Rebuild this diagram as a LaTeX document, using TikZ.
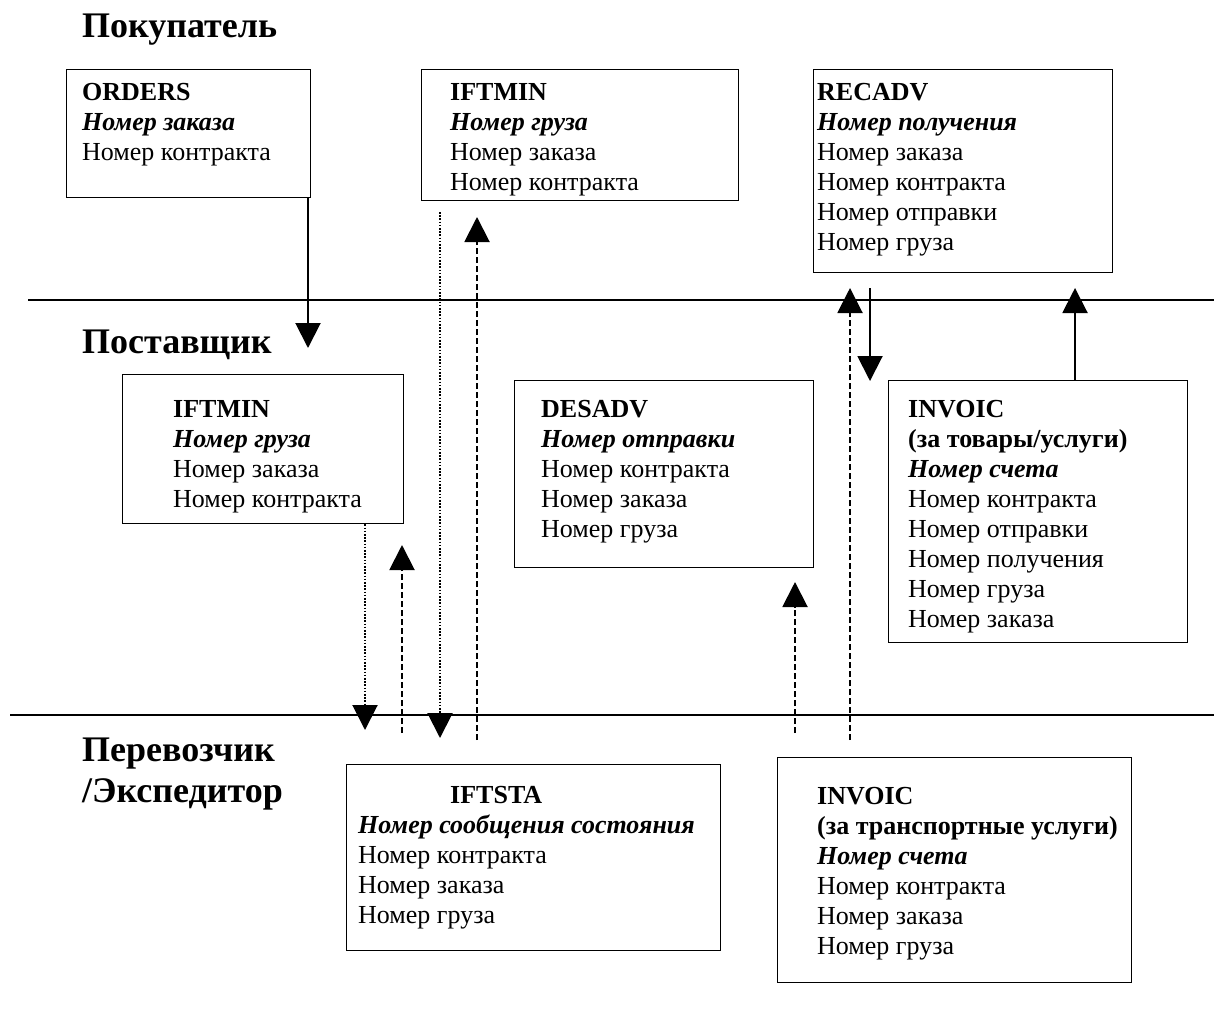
\documentclass[tikz,border=0pt]{standalone}
\usepackage{fontspec}
\setmainfont{Liberation Serif}
\usetikzlibrary{arrows.meta}
\newcommand{\mlines}[1]{\begin{tabular}[t]{@{}l@{}}#1\end{tabular}}
\newcommand{\bfit}[1]{\textbf{\textit{#1}}}
\begin{document}
\begin{tikzpicture}[x=1pt,y=-1pt,
  box/.style={draw, line width=1.3pt, inner sep=0pt, anchor=north west},
  txt/.style={inner sep=0pt, anchor=base west, font=\fontsize{26}{30}\selectfont},
  ttl/.style={inner sep=0pt, anchor=base west, font=\fontsize{36}{41.4}\selectfont\bfseries},
  sepline/.style={line width=1.3pt},
  arr/.style={line width=2pt, -{Triangle[length=25pt,width=25pt]}},
  dotline/.style={dash pattern=on 1.6pt off 1.6pt},
  dashline/.style={dash pattern=on 6pt off 3pt}]
\useasboundingbox (0,0) rectangle (1214,1020);

% titles
\node[ttl] (tbuy) at (82,37) {Покупатель};
\node[ttl] (tsup) at (82,353) {Поставщик};
\node[ttl] (tcar) at (82,761) {\mlines{Перевозчик\\/Экспедитор}};

% separators
\coordinate (l1a) at (28,300);
\coordinate (l1b) at (1214,300);
\coordinate (l2a) at (10,715);
\coordinate (l2b) at (1214,715);
\draw[sepline] (l1a) -- (l1b);
\draw[sepline] (l2a) -- (l2b);

% boxes
\node[box, minimum width=244pt, minimum height=128pt] (orders) at (66,69) {};
\node[box, minimum width=317pt, minimum height=131pt] (iftminB) at (421,69) {};
\node[box, minimum width=299pt, minimum height=203pt] (recadv) at (813,69) {};
\node[box, minimum width=281pt, minimum height=149pt] (iftminS) at (122,374) {};
\node[box, minimum width=299pt, minimum height=187pt] (desadv) at (514,380) {};
\node[box, minimum width=299pt, minimum height=262pt] (invoicS) at (888,380) {};
\node[box, minimum width=374pt, minimum height=186pt] (iftsta) at (346,764) {};
\node[box, minimum width=354pt, minimum height=225pt] (invoicC) at (777,757) {};

% texts
\node[txt] (ordersT) at (82,100) {\mlines{\textbf{ORDERS}\\\bfit{Номер заказа}\\Номер контракта}};
\node[txt] (iftminBT) at (450,100) {\mlines{\textbf{IFTMIN}\\\bfit{Номер груза}\\Номер заказа\\Номер контракта}};
\node[txt] (recadvT) at (817,100) {\mlines{\textbf{RECADV}\\\bfit{Номер получения}\\Номер заказа\\Номер контракта\\Номер отправки\\Номер груза}};
\node[txt] (iftminST) at (173,417) {\mlines{\textbf{IFTMIN}\\\bfit{Номер груза}\\Номер заказа\\Номер контракта}};
\node[txt] (desadvT) at (541,417) {\mlines{\textbf{DESADV}\\\bfit{Номер отправки}\\Номер контракта\\Номер заказа\\Номер груза}};
\node[txt] (invoicST) at (908,417) {\mlines{\textbf{INVOIC}\\\textbf{(за товары/услуги)}\\\bfit{Номер счета}\\Номер контракта\\Номер отправки\\Номер получения\\Номер груза\\Номер заказа}};
\node[txt] (iftstaT) at (358,803) {\mlines{\hspace*{92pt}\textbf{IFTSTA}\\\bfit{Номер сообщения состояния}\\Номер контракта\\Номер заказа\\Номер груза}};
\node[txt] (invoicCT) at (817,804) {\mlines{\textbf{INVOIC}\\\textbf{(за транспортные услуги)}\\\bfit{Номер счета}\\Номер контракта\\Номер заказа\\Номер груза}};

% arrow end points
\coordinate (a1e) at (308,348);
\coordinate (a2s) at (440,212);
\coordinate (a2e) at (440,738);
\coordinate (a3s) at (477,740);
\coordinate (a3e) at (477,217);
\coordinate (a4e) at (365,730);
\coordinate (a5s) at (402,733);
\coordinate (a5e) at (402,545);
\coordinate (a6s) at (795,733);
\coordinate (a6e) at (795,582);
\coordinate (a7s) at (850,740);
\coordinate (a7e) at (850,288);
\coordinate (a8s) at (870,288);
\coordinate (a8e) at (870,381);
\coordinate (a9e) at (1075,288);

% connectors
\draw[arr] (a1e |- orders.south) -- (a1e);
\draw[arr, dotline] (a2s) -- (a2e);
\draw[arr, dashline] (a3s) -- (a3e);
\draw[arr, dotline] (a4e |- iftminS.south) -- (a4e);
\draw[arr, dashline] (a5s) -- (a5e);
\draw[arr, dashline] (a6s) -- (a6e);
\draw[arr, dashline] (a7s) -- (a7e);
\draw[arr] (a8s) -- (a8e);
\draw[arr] (a9e |- invoicS.north) -- (a9e);
\end{tikzpicture}
\end{document}
